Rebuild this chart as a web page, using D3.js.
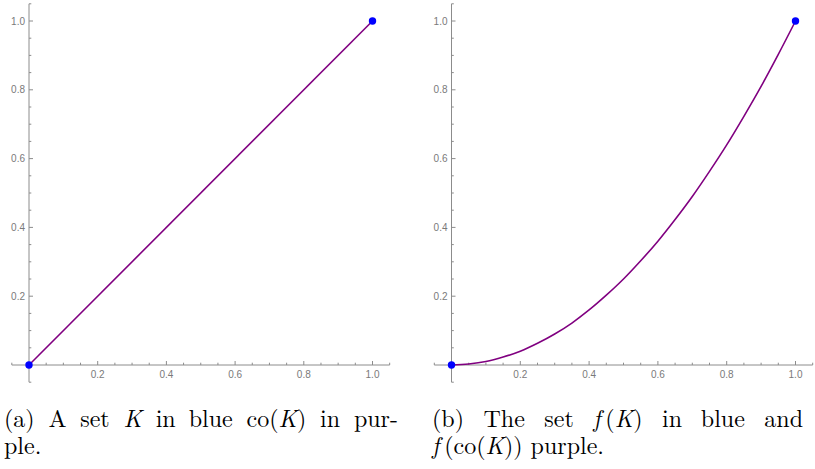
<!DOCTYPE html>
<html>
<head>
<meta charset="utf-8">
<script src="https://cdn.jsdelivr.net/npm/d3@7"></script>
<style>
  body { margin: 0; background: #fff; }
  svg { display: block; }
</style>
</head>
<body>
<div id="chart"></div>
<script>
// data
var setK = [[0, 0], [1, 1]];            // blue points, panel a
var hullK = [[0, 0], [1, 1]];           // purple segment, panel a
var setFK = [[0, 0], [1, 1]];           // blue points, panel b
var curveX = [0, 0.05, 0.1, 0.15, 0.2, 0.25, 0.3, 0.35, 0.4, 0.45, 0.5,
  0.55, 0.6, 0.65, 0.7, 0.75, 0.8, 0.85, 0.9, 0.95, 1];
var curveY = [0, 0.003, 0.01, 0.023, 0.04, 0.063, 0.09, 0.122, 0.16, 0.203, 0.25,
  0.303, 0.36, 0.423, 0.49, 0.563, 0.64, 0.723, 0.81, 0.903, 1];
var majorTicks = [0.2, 0.4, 0.6, 0.8, 1.0];
var minorTicks = [-0.05, 0.05, 0.1, 0.15, 0.25, 0.3, 0.35, 0.45, 0.5, 0.55, 0.65, 0.7, 0.75, 0.85, 0.9, 0.95, 1.05];

var width = 815,
  height = 469;

var svg = d3.select("#chart")
  .append("svg")
  .attr("width", width)
  .attr("height", height);

var axisColor = "#8c8c8c",
  labelColor = "#7a7a7a",
  purple = "#800080",
  blue = "#0000ff";

var y = d3.scaleLinear().domain([0, 1]).range([365, 21]);

function drawPanel(x0, x1, lineData, dots) {
  var x = d3.scaleLinear().domain([0, 1]).range([x0, x1]);
  var g = svg.append("g");

  // axes lines span -0.05 .. 1.05
  g.append("line")
    .attr("x1", x(-0.05)).attr("x2", x(1.05))
    .attr("y1", y(0)).attr("y2", y(0))
    .attr("stroke", axisColor).attr("stroke-width", 1);
  g.append("line")
    .attr("x1", x(0)).attr("x2", x(0))
    .attr("y1", y(-0.05)).attr("y2", y(1.05))
    .attr("stroke", axisColor).attr("stroke-width", 1);

  // x ticks (pointing up)
  g.selectAll(".xmaj").data(majorTicks).enter().append("line")
    .attr("x1", d => x(d)).attr("x2", d => x(d))
    .attr("y1", y(0)).attr("y2", y(0) - 4)
    .attr("stroke", axisColor);
  g.selectAll(".xmin").data(minorTicks).enter().append("line")
    .attr("x1", d => x(d)).attr("x2", d => x(d))
    .attr("y1", y(0)).attr("y2", y(0) - 2.3)
    .attr("stroke", axisColor);
  // y ticks (pointing right)
  g.selectAll(".ymaj").data(majorTicks).enter().append("line")
    .attr("x1", x(0)).attr("x2", x(0) + 4)
    .attr("y1", d => y(d)).attr("y2", d => y(d))
    .attr("stroke", axisColor);
  g.selectAll(".ymin").data(minorTicks).enter().append("line")
    .attr("x1", x(0)).attr("x2", x(0) + 2.3)
    .attr("y1", d => y(d)).attr("y2", d => y(d))
    .attr("stroke", axisColor);

  // tick labels
  g.selectAll(".xl").data(majorTicks).enter().append("text")
    .attr("x", d => x(d)).attr("y", y(0) + 13)
    .attr("text-anchor", "middle")
    .attr("font-family", "'Liberation Sans', Arial, sans-serif")
    .attr("font-size", 10)
    .attr("fill", labelColor)
    .text(d => d3.format(".1f")(d));
  g.selectAll(".yl").data(majorTicks).enter().append("text")
    .attr("x", x(0) - 4).attr("y", d => y(d) + 3.5)
    .attr("text-anchor", "end")
    .attr("font-family", "'Liberation Sans', Arial, sans-serif")
    .attr("font-size", 10)
    .attr("fill", labelColor)
    .text(d => d3.format(".1f")(d));

  // purple line
  var line = d3.line()
    .x(d => x(d[0]))
    .y(d => y(d[1]))
    .curve(d3.curveCatmullRom);
  g.append("path")
    .attr("d", line(lineData))
    .attr("fill", "none")
    .attr("stroke", purple)
    .attr("stroke-width", 1.6);

  // blue points
  g.selectAll(".dot").data(dots).enter().append("circle")
    .attr("cx", d => x(d[0])).attr("cy", d => y(d[1]))
    .attr("r", 3.7)
    .attr("fill", blue);
}

drawPanel(29, 372.5, hullK, setK);
drawPanel(451.5, 795.5, curveX.map((v, i) => [v, curveY[i]]), setFK);

// captions: one text per caption, lines of words, words are lists of [text, italic]
var capFont = "'Latin Modern Roman', 'Times New Roman', serif";
var capSize = 24;

function drawCaption(lines, left, right, baselines) {
  var t = svg.append("text")
    .attr("font-family", capFont)
    .attr("font-size", capSize)
    .attr("fill", "#000");
  lines.forEach(function (words, li) {
    var justify = li < lines.length - 1;
    var nodes = words.map(function (w) {
      var wt = t.append("tspan");
      w.forEach(function (p) {
        wt.append("tspan")
          .attr("font-style", p[1] ? "italic" : "normal")
          .text(p[0]);
      });
      return wt;
    });
    var widths = nodes.map(n => n.node().getComputedTextLength());
    var total = d3.sum(widths);
    var gap = justify && nodes.length > 1 ? (right - left - total) / (nodes.length - 1) : capSize * 0.33;
    var cx = left;
    nodes.forEach(function (n, i) {
      n.attr("x", cx).attr("y", baselines[li]);
      cx += widths[i] + gap;
    });
  });
}

var capA1 = [[["(a)", 0]], [["A", 0]], [["set", 0]], [["K", 1]], [["in", 0]], [["blue", 0]],
  [["co(", 0], ["K", 1], [")", 0]], [["in", 0]], [["pur-", 0]]];
var capA2 = [[["ple.", 0]]];
var capB1 = [[["(b)", 0]], [["The", 0]], [["set", 0]], [["f", 1], ["\u2009(", 0], ["K", 1], [")", 0]],
  [["in", 0]], [["blue", 0]], [["and", 0]]];
var capB2 = [[["f", 1], ["\u2009(co(", 0], ["K", 1], ["))", 0]], [["purple.", 0]]];

drawCaption([capA1, capA2], 4, 398, [427, 454]);
drawCaption([capB1, capB2], 432, 803, [427, 454]);
</script>
</body>
</html>
